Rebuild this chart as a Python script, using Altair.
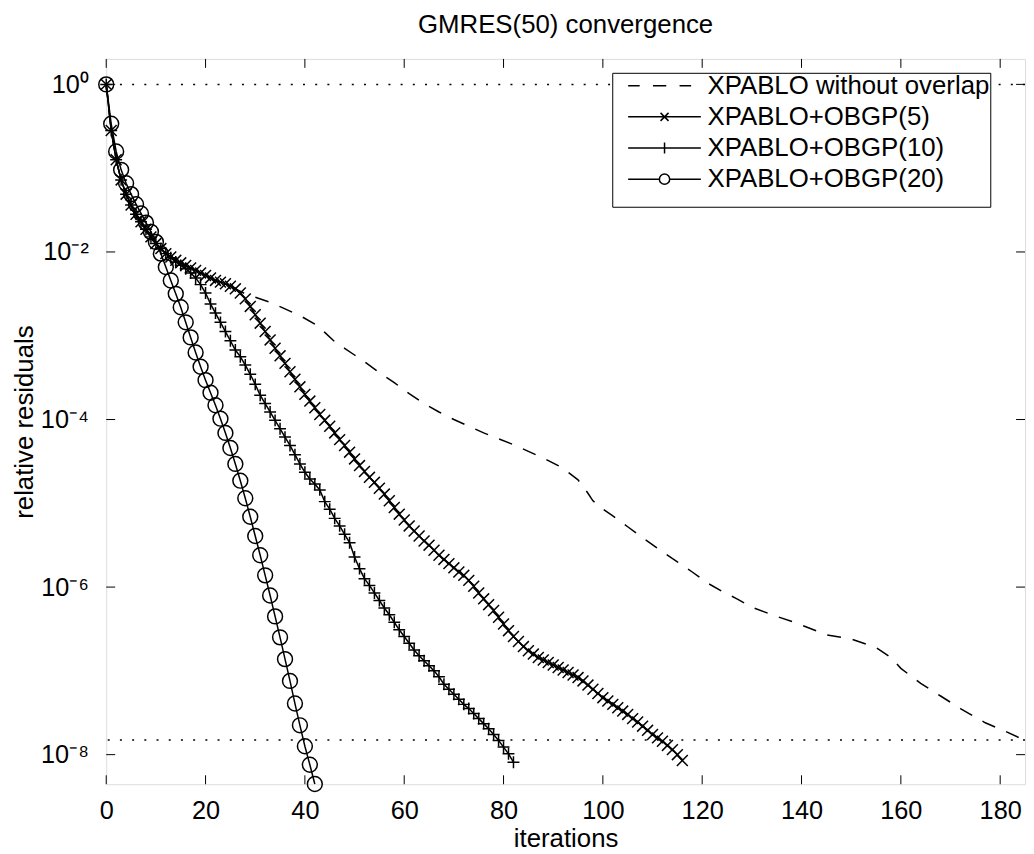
import altair as alt
import pandas as pd

series_names = ["XPABLO without overlap", "XPABLO+OBGP(5)", "XPABLO+OBGP(10)", "XPABLO+OBGP(20)"]

# ---- series (iteration, log10 of relative residual) ----
iters_noovl = [0, 1, 2, 3, 4, 5, 6, 7, 8, 9, 10, 12, 14, 16, 18, 20, 22, 24, 26, 28, 30, 33, 36, 39, 42,
               44, 46, 48, 50, 52, 55, 58, 61, 64, 67, 70, 73, 76, 79, 82, 85, 88, 91, 93, 95, 96, 97,
               98, 100, 102, 105, 108, 112, 115, 118, 121, 124, 127, 130, 134, 139, 145, 150, 155, 158,
               160, 164, 168, 172, 177, 181, 185]
log10_noovl = [0, -0.55, -0.90, -1.14, -1.31, -1.44, -1.55, -1.64, -1.73, -1.82, -1.90, -2.02, -2.10,
               -2.16, -2.22, -2.28, -2.34, -2.38, -2.44, -2.50, -2.54, -2.60, -2.68, -2.76, -2.86,
               -2.96, -3.07, -3.15, -3.23, -3.31, -3.44, -3.56, -3.69, -3.81, -3.91, -4.00, -4.08,
               -4.16, -4.23, -4.30, -4.38, -4.46, -4.55, -4.63, -4.72, -4.80, -4.88, -4.97, -5.07,
               -5.15, -5.28, -5.41, -5.58, -5.70, -5.82, -5.95, -6.05, -6.14, -6.24, -6.33, -6.43,
               -6.57, -6.62, -6.72, -6.84, -6.97, -7.15, -7.30, -7.45, -7.62, -7.72, -7.83]

iters_obgp5 = list(range(0, 117))
log10_obgp5 = [0, -0.55, -0.90, -1.14, -1.31, -1.44, -1.55, -1.64, -1.73, -1.82,
               -1.90, -1.96, -2.02, -2.06, -2.10, -2.13, -2.16, -2.19, -2.22, -2.25,
               -2.28, -2.31, -2.34, -2.36, -2.38, -2.41, -2.44, -2.49, -2.56, -2.65,
               -2.75, -2.85, -2.95, -3.05, -3.15, -3.24, -3.33, -3.43, -3.52, -3.61,
               -3.70, -3.78, -3.86, -3.94, -4.01, -4.08, -4.16, -4.24, -4.31, -4.39,
               -4.47, -4.55, -4.62, -4.69, -4.75, -4.82, -4.89, -4.97, -5.05, -5.13,
               -5.20, -5.27, -5.33, -5.39, -5.45, -5.50, -5.56, -5.62, -5.67, -5.72,
               -5.77, -5.82, -5.86, -5.92, -5.99, -6.07, -6.14, -6.21, -6.28, -6.36,
               -6.44, -6.52, -6.59, -6.65, -6.71, -6.76, -6.80, -6.84, -6.87, -6.90,
               -6.93, -6.96, -6.99, -7.02, -7.05, -7.08, -7.12, -7.17, -7.22, -7.27,
               -7.32, -7.36, -7.40, -7.44, -7.48, -7.52, -7.57, -7.61, -7.66, -7.71,
               -7.76, -7.80, -7.84, -7.89, -7.94, -8.00, -8.07]

iters_obgp10 = list(range(0, 83))
log10_obgp10 = [0, -0.55, -0.90, -1.14, -1.31, -1.44, -1.55, -1.64, -1.73, -1.82,
                -1.90, -1.96, -2.02, -2.07, -2.12, -2.16, -2.20, -2.25, -2.31, -2.39,
                -2.49, -2.62, -2.73, -2.84, -2.95, -3.06, -3.17, -3.25, -3.35, -3.46,
                -3.58, -3.71, -3.81, -3.91, -4.01, -4.11, -4.21, -4.31, -4.42, -4.53,
                -4.63, -4.71, -4.77, -4.84, -4.98, -5.07, -5.18, -5.27, -5.37, -5.47,
                -5.64, -5.78, -5.90, -5.98, -6.07, -6.16, -6.25, -6.33, -6.42, -6.51,
                -6.59, -6.67, -6.75, -6.82, -6.88, -6.94, -7.00, -7.07, -7.16, -7.22,
                -7.28, -7.34, -7.40, -7.45, -7.51, -7.57, -7.63, -7.69, -7.76, -7.83,
                -7.91, -7.99, -8.09]

iters_obgp20 = list(range(0, 43))
log10_obgp20 = [0, -0.47, -0.80, -1.02, -1.18, -1.31, -1.43, -1.54, -1.65, -1.76,
                -1.88, -2.02, -2.18, -2.34, -2.50, -2.66, -2.84, -3.02, -3.20, -3.37,
                -3.53, -3.68, -3.83, -3.99, -4.16, -4.34, -4.53, -4.73, -4.94, -5.16,
                -5.39, -5.62, -5.86, -6.10, -6.35, -6.60, -6.86, -7.12, -7.39, -7.65,
                -7.90, -8.12, -8.35]

x_ticks = [0, 20, 40, 60, 80, 100, 120, 140, 160, 180]
y_ticks = [1, 1e-2, 1e-4, 1e-6, 1e-8]
dotted_levels = [1.0, 1.5e-8]
x_domain = [0, 185]
y_domain = [10 ** -8.353, 10 ** 0.304]

# ---- tables ----
def frame(name, its, logs):
    return pd.DataFrame({"series": name, "it": its, "r": [10 ** v for v in logs]})

df = pd.concat([
    frame(series_names[0], iters_noovl, log10_noovl),
    frame(series_names[1], iters_obgp5, log10_obgp5),
    frame(series_names[2], iters_obgp10, log10_obgp10),
    frame(series_names[3], iters_obgp20, log10_obgp20),
], ignore_index=True)

W, H = 926, 731
FONT = "Liberation Sans"
FS = 25.5
FS_T = 26

sup_expr = ("'10' + replace(replace(replace(replace(replace(replace('' + round(log(datum.value)/LN10),"
            "'-','\u207b'),'0','\u2070'),'2','\u00b2'),'4','\u2074'),'6','\u2076'),'8','\u2078')")

x_axis = alt.Axis(values=x_ticks, format="d", ticks=False, tickSize=0, domain=False, grid=False,
                  labelFont=FONT, labelFontSize=FS, labelColor="black", labelPadding=15,
                  labelFlush=False, labelOverlap=False,
                  title="iterations", titleFont=FONT, titleFontSize=FS_T, titleFontWeight="normal",
                  titleColor="black", titleX=W / 2, titleY=63, titleBaseline="alphabetic")
y_axis = alt.Axis(values=y_ticks, labelExpr=sup_expr, ticks=False, tickSize=0, domain=False, grid=False,
                  labelFont=FONT, labelFontSize=FS, labelColor="black", labelPadding=18,
                  labelFlush=False, labelOverlap=False,
                  title="relative residuals", titleFont=FONT, titleFontSize=FS_T, titleFontWeight="normal",
                  titleColor="black", titleX=-74, titleY=H / 2, titleAngle=270, titleBaseline="alphabetic")

x_enc = alt.X("it:Q", scale=alt.Scale(domain=x_domain, nice=False, zero=False), axis=x_axis)
y_enc = alt.Y("r:Q", scale=alt.Scale(type="log", domain=y_domain, nice=False), axis=y_axis)

base = alt.Chart(df)

def sel(name):
    return base.transform_filter(alt.datum.series == name)

dotted = alt.Chart(pd.DataFrame({"r": dotted_levels})).mark_rule(
    color="black", strokeWidth=1.5, strokeDash=[2, 10.3]).encode(y=y_enc)

xt = pd.DataFrame({"it": x_ticks})
yt = pd.DataFrame({"r": y_ticks})
tick_bottom = alt.Chart(xt).mark_rule(color="black", strokeWidth=1).encode(
    x=x_enc, y=alt.value(H), y2=alt.value(H - 9))
tick_top = alt.Chart(xt).mark_rule(color="black", strokeWidth=1).encode(
    x=x_enc, y=alt.value(0), y2=alt.value(9))
tick_left = alt.Chart(yt).mark_rule(color="black", strokeWidth=1).encode(
    y=y_enc, x=alt.value(0), x2=alt.value(9))
tick_right = alt.Chart(yt).mark_rule(color="black", strokeWidth=1).encode(
    y=y_enc, x=alt.value(W), x2=alt.value(W - 9))

line_kw = dict(color="black", strokeWidth=1.5)
pt_kw = dict(color="black", filled=False, strokeWidth=1.5, opacity=1)

l0 = sel(series_names[0]).mark_line(strokeDash=[14, 12], **line_kw).encode(x=x_enc, y=y_enc)
l1 = sel(series_names[1]).mark_line(**line_kw).encode(x=x_enc, y=y_enc)
p1 = sel(series_names[1]).mark_point(shape="M-1,-1L1,1M-1,1L1,-1", size=121, **pt_kw).encode(x=x_enc, y=y_enc)
l2 = sel(series_names[2]).mark_line(**line_kw).encode(x=x_enc, y=y_enc)
p2 = sel(series_names[2]).mark_point(shape="M-1,0L1,0M0,-1L0,1", size=144, **pt_kw).encode(x=x_enc, y=y_enc)
l3 = sel(series_names[3]).mark_line(**line_kw).encode(x=x_enc, y=y_enc)
p3 = sel(series_names[3]).mark_point(shape="circle", size=225, **pt_kw).encode(x=x_enc, y=y_enc)

legend_paths = [
    "M-0.66,0L-0.4,0M-0.1,0L0.2,0M0.5,0L0.76,0",
    "M-0.66,0L0.98,0M0.071,-0.09L0.251,0.09M0.071,0.09L0.251,-0.09",
    "M-0.66,0L0.98,0M0.161,-0.123L0.161,0.123",
    "M-0.66,0L0.045,0M0.277,0L0.98,0M0.045,0A0.116,0.116,0,1,0,0.277,0A0.116,0.116,0,1,0,0.045,0",
]

legend = alt.Legend(
    title="\u00a0" * 121, titleOrient="bottom", titleFontSize=12, titlePadding=4, titleLimit=1000,
    titleAnchor="start",
    orient="none", legendX=510, legendY=14, direction="vertical",
    symbolSize=7992, symbolStrokeWidth=1.5, symbolStrokeColor="black", symbolOpacity=1,
    labelFont=FONT, labelFontSize=FS_T, labelColor="black", labelOffset=5, labelLimit=1000,
    clipHeight=26, rowPadding=5.4, padding=0, strokeColor="black", fillColor="white", cornerRadius=0,
)

legend_layer = alt.Chart(pd.DataFrame({"series": series_names})).mark_point(
    opacity=0, filled=False, color="black").encode(
    shape=alt.Shape("series:N", scale=alt.Scale(domain=series_names, range=legend_paths), legend=legend))

chart = alt.layer(
    dotted, tick_bottom, tick_top, tick_left, tick_right,
    l0, l1, p1, l2, p2, l3, p3, legend_layer,
).properties(
    width=W, height=H,
    title=alt.TitleParams(text="GMRES(50) convergence", font=FONT, fontSize=FS_T, fontWeight="normal",
                          color="black", anchor="middle", frame="group", baseline="alphabetic", offset=0),
    autosize=alt.AutoSizeParams(type="none"),
    padding={"left": 99, "top": 48, "right": 1, "bottom": 66},
).configure_view(stroke="black", strokeWidth=1.8).configure(background="white")

chart.save("out.html", embed_options={"renderer": "svg", "actions": False})
